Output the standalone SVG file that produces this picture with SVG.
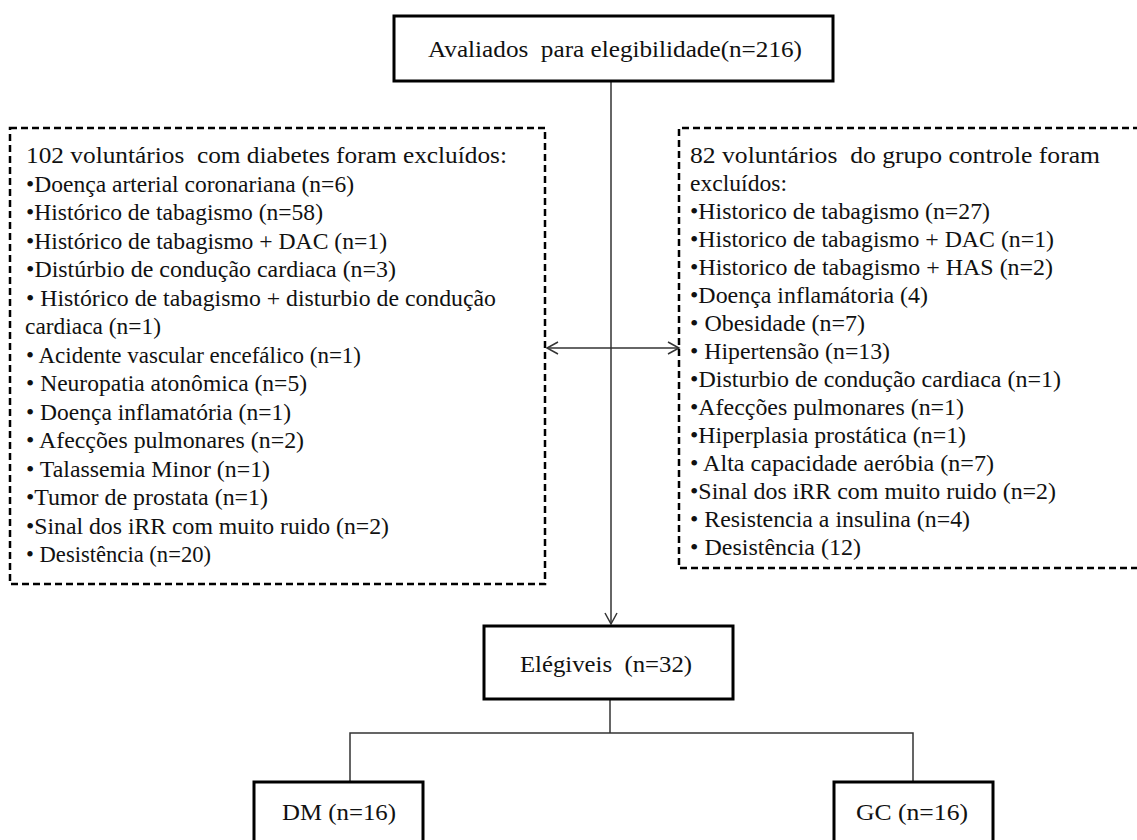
<svg xmlns="http://www.w3.org/2000/svg" width="1137" height="840" viewBox="0 0 1137 840" font-family="'Liberation Serif', 'DejaVu Serif', serif">
<style>
  .t { font-size: 22.5px; fill: #111; white-space: pre; }
  .box { fill: #fff; stroke: #000; stroke-width: 3; }
  .dash { fill: none; stroke: #000; stroke-width: 2.5; stroke-dasharray: 7 4; }
  .conn { fill: none; stroke: #333; stroke-width: 1.5; }
</style>
<defs>
  <marker id="arr" markerWidth="14" markerHeight="14" refX="12" refY="7" orient="auto-start-reverse" markerUnits="userSpaceOnUse">
    <path d="M1,1 L12,7 L1,13" fill="none" stroke="#333" stroke-width="1.5"/>
  </marker>
</defs>
<rect width="1137" height="840" fill="#fff"/>

<g id="connectors">
  <line class="conn" x1="611" y1="81" x2="611" y2="624" marker-end="url(#arr)"/>
  <line class="conn" x1="547" y1="348" x2="679" y2="348" marker-start="url(#arr)" marker-end="url(#arr)"/>
  <line class="conn" x1="610" y1="699" x2="610" y2="733"/>
  <polyline class="conn" points="350,782 350,733 913,733 913,782"/>
</g>

<g id="assessed" font-family="Liberation Serif">
  <rect class="box" x="394" y="16" width="439" height="65"/>
  <text class="t" x="428" y="57" textLength="374" lengthAdjust="spacingAndGlyphs">Avaliados  para elegibilidade(n=216)</text>
</g>

<g id="excluded-dm" font-family="Liberation Serif">
  <rect class="dash" x="10" y="128" width="535" height="456"/>
  <text class="t" x="26" y="163" textLength="481" lengthAdjust="spacingAndGlyphs">102 voluntários  com diabetes foram excluídos:</text>
  <text class="t" x="26" y="191.5" textLength="328" lengthAdjust="spacingAndGlyphs">•Doença arterial coronariana (n=6)</text>
  <text class="t" x="26" y="220" textLength="297" lengthAdjust="spacingAndGlyphs">•Histórico de tabagismo (n=58)</text>
  <text class="t" x="26" y="248.5" textLength="361" lengthAdjust="spacingAndGlyphs">•Histórico de tabagismo + DAC (n=1)</text>
  <text class="t" x="26" y="277" textLength="370" lengthAdjust="spacingAndGlyphs">•Distúrbio de condução cardiaca (n=3)</text>
  <text class="t" x="26" y="305.5" textLength="470" lengthAdjust="spacingAndGlyphs">• Histórico de tabagismo + disturbio de condução</text>
  <text class="t" x="25" y="334" textLength="136" lengthAdjust="spacingAndGlyphs">cardiaca (n=1)</text>
  <text class="t" x="26" y="362.5" textLength="335" lengthAdjust="spacingAndGlyphs">• Acidente vascular encefálico (n=1)</text>
  <text class="t" x="26" y="391" textLength="281" lengthAdjust="spacingAndGlyphs">• Neuropatia atonômica (n=5)</text>
  <text class="t" x="26" y="419.5" textLength="265" lengthAdjust="spacingAndGlyphs">• Doença inflamatória (n=1)</text>
  <text class="t" x="26" y="448" textLength="278" lengthAdjust="spacingAndGlyphs">• Afecções pulmonares (n=2)</text>
  <text class="t" x="26" y="476.5" textLength="244" lengthAdjust="spacingAndGlyphs">• Talassemia Minor (n=1)</text>
  <text class="t" x="26" y="505" textLength="242" lengthAdjust="spacingAndGlyphs">•Tumor de prostata (n=1)</text>
  <text class="t" x="26" y="533.5" textLength="363" lengthAdjust="spacingAndGlyphs">•Sinal dos iRR com muito ruido (n=2)</text>
  <text class="t" x="26" y="562" textLength="185" lengthAdjust="spacingAndGlyphs">• Desistência (n=20)</text>
</g>

<g id="excluded-gc" font-family="Liberation Serif">
  <path class="dash" d="M1140,128 L679,128 L679,568 L1140,568"/>
  <text class="t" x="690" y="163" textLength="410" lengthAdjust="spacingAndGlyphs">82 voluntários  do grupo controle foram</text>
  <text class="t" x="690" y="191" textLength="97" lengthAdjust="spacingAndGlyphs">excluídos:</text>
  <text class="t" x="690" y="219" textLength="300" lengthAdjust="spacingAndGlyphs">•Historico de tabagismo (n=27)</text>
  <text class="t" x="690" y="247" textLength="364" lengthAdjust="spacingAndGlyphs">•Historico de tabagismo + DAC (n=1)</text>
  <text class="t" x="690" y="275" textLength="363" lengthAdjust="spacingAndGlyphs">•Historico de tabagismo + HAS (n=2)</text>
  <text class="t" x="690" y="303" textLength="238" lengthAdjust="spacingAndGlyphs">•Doença inflamátoria (4)</text>
  <text class="t" x="690" y="331" textLength="175" lengthAdjust="spacingAndGlyphs">• Obesidade (n=7)</text>
  <text class="t" x="690" y="359" textLength="200" lengthAdjust="spacingAndGlyphs">• Hipertensão (n=13)</text>
  <text class="t" x="690" y="387" textLength="371" lengthAdjust="spacingAndGlyphs">•Disturbio de condução cardiaca (n=1)</text>
  <text class="t" x="690" y="415" textLength="274" lengthAdjust="spacingAndGlyphs">•Afecções pulmonares (n=1)</text>
  <text class="t" x="690" y="443" textLength="276" lengthAdjust="spacingAndGlyphs">•Hiperplasia prostática (n=1)</text>
  <text class="t" x="690" y="471" textLength="304" lengthAdjust="spacingAndGlyphs">• Alta capacidade aeróbia (n=7)</text>
  <text class="t" x="690" y="499" textLength="366" lengthAdjust="spacingAndGlyphs">•Sinal dos iRR com muito ruido (n=2)</text>
  <text class="t" x="690" y="527" textLength="280" lengthAdjust="spacingAndGlyphs">• Resistencia a insulina (n=4)</text>
  <text class="t" x="690" y="555" textLength="171" lengthAdjust="spacingAndGlyphs">• Desistência (12)</text>
</g>

<g id="eligible" font-family="Liberation Serif">
  <rect class="box" x="484" y="626" width="249" height="73"/>
  <text class="t" x="520" y="672" textLength="172" lengthAdjust="spacingAndGlyphs">Elégiveis  (n=32)</text>
</g>

<g id="dm" font-family="Liberation Serif">
  <rect class="box" x="254" y="782" width="169" height="70"/>
  <text class="t" x="282" y="820" textLength="114" lengthAdjust="spacingAndGlyphs">DM (n=16)</text>
</g>

<g id="gc" font-family="Liberation Serif">
  <rect class="box" x="834" y="782" width="159" height="70"/>
  <text class="t" x="856" y="820" textLength="112" lengthAdjust="spacingAndGlyphs">GC (n=16)</text>
</g>
</svg>
